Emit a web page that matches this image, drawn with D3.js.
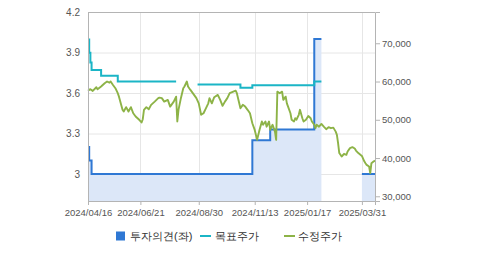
<!DOCTYPE html>
<html><head><meta charset="utf-8">
<script src="https://cdn.jsdelivr.net/npm/d3@7"></script>
<style>
body{margin:0;background:#fff}
text{font-family:"Liberation Sans",Arial,sans-serif}
</style></head><body>
<script>
// chart size
const width = 479, height = 255
const margin = {top: 12, right: 104, bottom: 54, left: 88}
const innerwidth = width - margin.left - margin.right
const innerheight = height - margin.top - margin.bottom

// x is trading-day index from 2024/04/16
const tickLabels = ["2024/04/16", "2024/06/21", "2024/08/30", "2024/11/13", "2025/01/17", "2025/03/31"]
const tickDays = [0, 44, 93, 140, 184, 230]
const leftTicks = [3, 3.3, 3.6, 3.9, 4.2]
const rightTicks = [30000, 40000, 50000, 60000, 70000]

// 투자의견 (left axis), step values, null = no data
const opinion = [[0,3.2],[1,3.1],[3,3.0],[138,3.25],[153,3.33],[190,4.0],[196,4.0],[196,null],[230,3.0],[241,3.0]]
// 목표주가 (right axis)
const target = [[0,71000],[1,67500],[2,65000],[3,63000],[11,61500],[25,60000],[74,60000],[74,null],
  [92,59200],[128,58400],[138,59000],[190,60000],[196,60000]]
// 수정주가 (right axis)
const price = [[0,57600],[2,58000],[4,57550],[7,58500],[8,58000],[11,58700],[14,59550],[16,60000],[18,59700],
  [19,60000],[21,59100],[23,58250],[25,56950],[26,56050],[29,52600],[30,52150],[32,53300],[34,52150],
  [36,53300],[38,51700],[40,50850],[43,50000],[45,49300],[46,50150],[47,52600],[49,53300],[51,52750],
  [53,53900],[56,54750],[59,55650],[60,55800],[62,55650],[64,54750],[67,55200],[69,53450],[72,54750],
  [74,56050],[75,49550],[76,52600],[78,55650],[80,58250],[81,58700],[83,60000],[84,58700],[86,57800],
  [88,56950],[91,55650],[93,54300],[95,51300],[97,51700],[99,53000],[101,54300],[102,55650],[104,54300],
  [106,55900],[109,56500],[111,55200],[113,53650],[115,54750],[117,55650],[119,56950],[122,57350],
  [124,57600],[125,56950],[127,54300],[128,53000],[130,53900],[132,53450],[134,52600],[136,51700],
  [137,50400],[138,49100],[140,47350],[141,46050],[142,44750],[144,47350],[146,49550],[147,48700],
  [149,49550],[150,48200],[152,49550],[153,47350],[155,48700],[157,46900],[158,44750],[159,57350],
  [161,56950],[163,57350],[164,55200],[166,56050],[167,54300],[168,53450],[170,51700],[171,50000],
  [173,49550],[174,50400],[175,50000],[177,51300],[178,52600],[180,50400],[181,49550],[183,50000],
  [185,51000],[187,50400],[188,49550],[190,48700],[191,47800],[192,48700],[194,48200],[196,48900],
  [198,48200],[200,47550],[202,48050],[204,47800],[206,47950],[208,46900],[209,46050],[210,43900],
  [211,41300],[213,40400],[215,41100],[217,40850],[218,41700],[220,42600],[222,42850],[224,42500],
  [225,41950],[227,41300],[230,40550],[232,39150],[233,38650],[234,38200],[236,37800],[237,36050],
  [238,38650],[240,39150],[241,39300]]

const svg = d3.select("body").append("svg")
    .attr("width", width)
    .attr("height", height)

const g = svg.append("g")
    .attr("transform", `translate(${margin.left},${margin.top})`)

const xScale = d3.scaleLinear().domain([0, 241]).range([0, innerwidth])
const yLeft = d3.scaleLinear().domain([2.8, 4.2]).range([innerheight, 0])
const yRight = d3.scaleLinear().domain([28770, 78170]).range([innerheight, 0])

// grid
g.selectAll(".hgrid").data(leftTicks.slice(0, -1)).enter().append("line")
    .attr("x1", 0).attr("x2", innerwidth)
    .attr("y1", d => yLeft(d) + 0.5).attr("y2", d => yLeft(d) + 0.5)
    .attr("stroke", "#e6e6e6")
g.selectAll(".vgrid").data(tickDays.slice(1)).enter().append("line")
    .attr("x1", d => Math.round(xScale(d)) + 0.5).attr("x2", d => Math.round(xScale(d)) + 0.5)
    .attr("y1", 0).attr("y2", innerheight)
    .attr("stroke", "#e6e6e6")

// opinion area + line
const defined = d => d[1] != null
g.append("path")
    .attr("d", d3.area().defined(defined).curve(d3.curveStepAfter)
        .x(d => xScale(d[0])).y0(innerheight).y1(d => yLeft(d[1]))(opinion))
    .attr("fill", "#dce7f8")

g.append("path")
    .attr("d", d3.line().defined(defined).curve(d3.curveStepAfter)
        .x(d => xScale(d[0])).y(d => yLeft(d[1]))(opinion))
    .attr("fill", "none").attr("stroke", "#2f78d4").attr("stroke-width", 2)

g.append("path")
    .attr("d", d3.line().defined(defined).curve(d3.curveStepAfter)
        .x(d => xScale(d[0])).y(d => yRight(d[1]))(target))
    .attr("fill", "none").attr("stroke", "#1bb5c6").attr("stroke-width", 2)

g.append("path")
    .attr("d", d3.line().x(d => xScale(d[0])).y(d => yRight(d[1]))(price))
    .attr("fill", "none").attr("stroke", "#8db347").attr("stroke-width", 1.9)
    .attr("stroke-linejoin", "round")

// frame
g.append("line").attr("x1", 0).attr("x2", innerwidth).attr("y1", 0.5).attr("y2", 0.5).attr("stroke", "#b4b4b4")

// axes
const xAxisG = g.append("g").attr("transform", `translate(0,${innerheight})`)
    .call(d3.axisBottom(xScale).tickValues(tickDays).tickFormat((d, i) => tickLabels[i]).tickSize(4).tickPadding(4))
const yAxisG = g.append("g")
    .call(d3.axisLeft(yLeft).tickValues(leftTicks).tickFormat(d => String(d)).tickSize(0).tickPadding(8))
const y2AxisG = g.append("g").attr("transform", `translate(${innerwidth},0)`)
    .call(d3.axisRight(yRight).tickValues(rightTicks).tickFormat(d3.format(",")).tickSize(5).tickPadding(2))

;[xAxisG, yAxisG, y2AxisG].forEach(a => {
    a.select(".domain").attr("stroke", "#b4b4b4")
    a.selectAll(".tick line").attr("stroke", "#b4b4b4")
    a.selectAll("text").attr("fill", "#555").style("font-size", "9.5px")
})
yAxisG.selectAll("text").style("font-size", "10px")

// legend
const lg = svg.append("g").attr("transform", "translate(0,236)")
    .style("font-family", "'Noto Sans CJK KR', sans-serif").style("font-size", "11px")
lg.append("rect").attr("x", 116).attr("y", -4.5).attr("width", 9).attr("height", 9).attr("fill", "#2f78d4")
lg.append("text").attr("x", 130).attr("y", 4).attr("fill", "#333").text("투자의견(좌)")
lg.append("line").attr("x1", 200).attr("x2", 211).attr("stroke", "#1bb5c6").attr("stroke-width", 2)
lg.append("text").attr("x", 215).attr("y", 4).attr("fill", "#333").text("목표주가")
lg.append("line").attr("x1", 284).attr("x2", 295).attr("stroke", "#8db347").attr("stroke-width", 2)
lg.append("text").attr("x", 298).attr("y", 4).attr("fill", "#333").text("수정주가")
</script>
</body></html>
